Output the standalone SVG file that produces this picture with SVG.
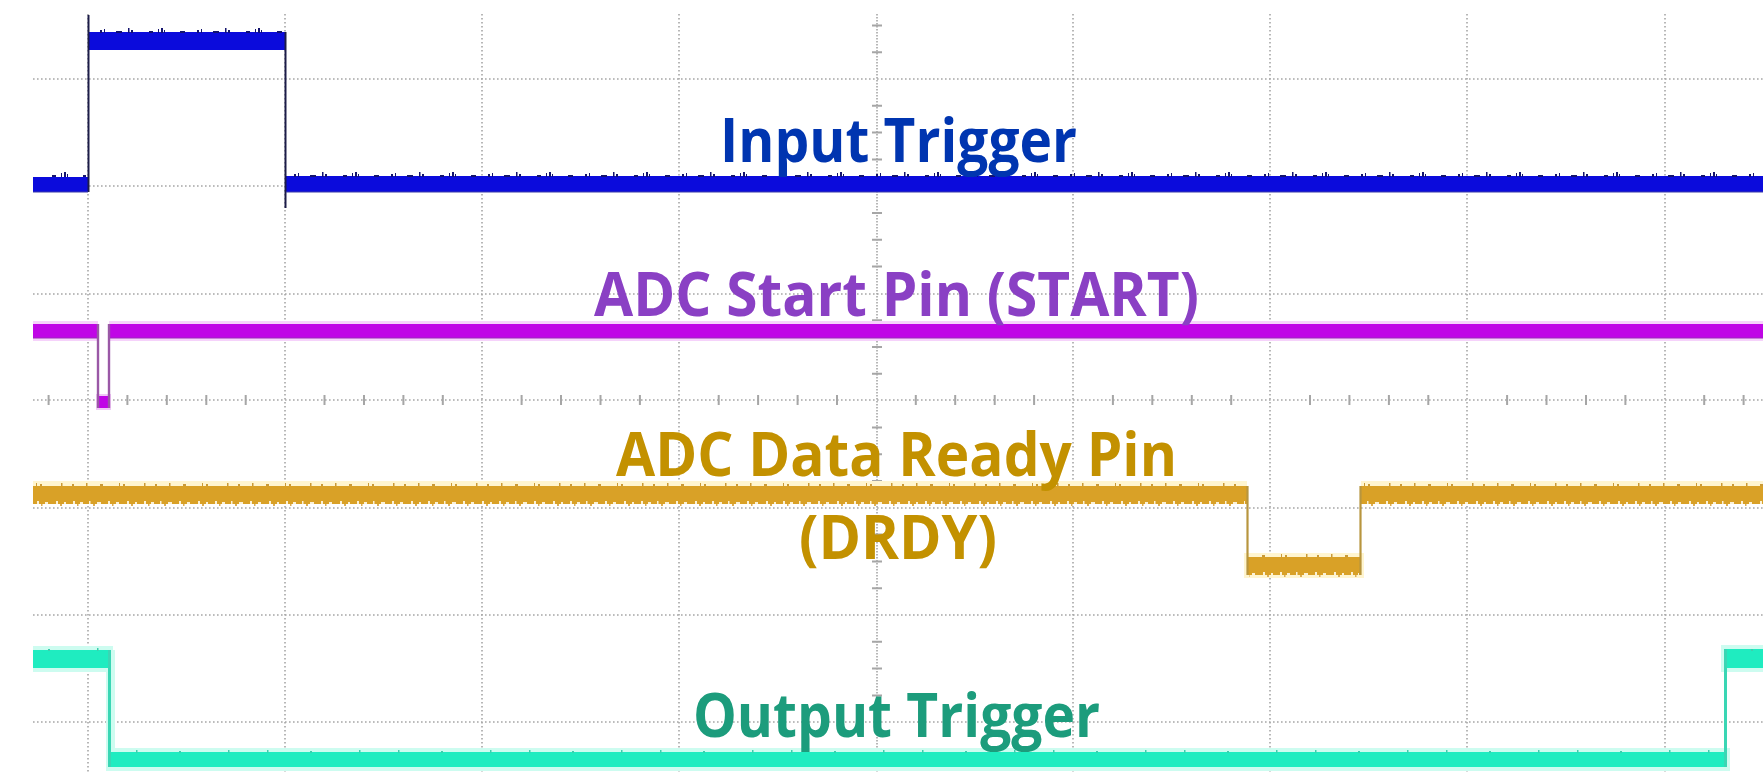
<svg xmlns="http://www.w3.org/2000/svg" width="1763" height="773" viewBox="0 0 1763 773">
  <style>
    .grid { stroke: #a6a6a6; stroke-width: 1.6; stroke-dasharray: 1.6 2.4; fill: none; }
    .tick { stroke: #a6a6a6; stroke-width: 2; fill: none; }
    .label { font-family: "Open Sans", "Liberation Sans", sans-serif; font-weight: 700; font-size: 60px; }
  </style>
  <defs>
    <!-- sparse, irregular noise ticks riding on the trace bands -->
    <pattern id="nzBlue" width="97" height="6" patternUnits="userSpaceOnUse">
      <rect x="3" y="3" width="2" height="3" fill="#14146e"/>
      <rect x="7" y="2" width="1" height="4" fill="#14146e"/>
      <rect x="19" y="4" width="6" height="2" fill="#14146e"/>
      <rect x="31" y="1" width="1.5" height="5" fill="#14146e"/>
      <rect x="34" y="3" width="2" height="3" fill="#14146e"/>
      <rect x="52" y="4" width="4" height="2" fill="#14146e"/>
      <rect x="61" y="2" width="1" height="4" fill="#14146e"/>
      <rect x="64" y="1" width="2" height="5" fill="#14146e"/>
      <rect x="67" y="3" width="1" height="3" fill="#14146e"/>
      <rect x="83" y="4" width="5" height="2" fill="#14146e"/>
    </pattern>
    <pattern id="nzGoldTop" width="83" height="4" patternUnits="userSpaceOnUse">
      <rect x="3" y="1" width="1.5" height="3" fill="#c99a3a"/>
      <rect x="17" y="2" width="3" height="2" fill="#c99a3a"/>
      <rect x="36" y="1" width="1" height="3" fill="#c99a3a"/>
      <rect x="40" y="2" width="2" height="2" fill="#c99a3a"/>
      <rect x="61" y="1" width="1.5" height="3" fill="#c99a3a"/>
      <rect x="72" y="2" width="2" height="2" fill="#c99a3a"/>
    </pattern>
    <pattern id="nzGoldLow" width="71" height="5" patternUnits="userSpaceOnUse">
      <rect x="2" y="0" width="2" height="3" fill="#fbf1d6"/>
      <rect x="9" y="1" width="3" height="2" fill="#fbf1d6"/>
      <rect x="18" y="0" width="1.5" height="3" fill="#fbf1d6"/>
      <rect x="26" y="1" width="4" height="2" fill="#fbf1d6"/>
      <rect x="37" y="0" width="2" height="3" fill="#fbf1d6"/>
      <rect x="45" y="1" width="3" height="2" fill="#fbf1d6"/>
      <rect x="56" y="0" width="2" height="3" fill="#fbf1d6"/>
      <rect x="64" y="1" width="2" height="2" fill="#fbf1d6"/>
      <rect x="6" y="3" width="1.5" height="2" fill="#dcae55"/>
      <rect x="22" y="3" width="2" height="2" fill="#dcae55"/>
      <rect x="41" y="3" width="1.5" height="2" fill="#dcae55"/>
      <rect x="60" y="3" width="2" height="2" fill="#dcae55"/>
    </pattern>
    <pattern id="nzCyan" width="131" height="4" patternUnits="userSpaceOnUse">
      <rect x="5" y="1" width="1.5" height="3" fill="#3ccfae"/>
      <rect x="48" y="2" width="2" height="2" fill="#3ccfae"/>
      <rect x="97" y="1" width="1.5" height="3" fill="#3ccfae"/>
    </pattern>
  </defs>

  <rect width="1763" height="773" fill="#ffffff"/>

  <!-- graticule -->
  <g id="graticule">
    <g id="grid-vertical">
      <line class="grid" x1="88" y1="14" x2="88" y2="773"/>
      <line class="grid" x1="285" y1="14" x2="285" y2="773"/>
      <line class="grid" x1="482" y1="14" x2="482" y2="773"/>
      <line class="grid" x1="679" y1="14" x2="679" y2="773"/>
      <line class="grid" x1="877" y1="14" x2="877" y2="773" style="stroke-dasharray:1.4 1.6"/>
      <line class="grid" x1="1073" y1="14" x2="1073" y2="773"/>
      <line class="grid" x1="1270" y1="14" x2="1270" y2="773"/>
      <line class="grid" x1="1467" y1="14" x2="1467" y2="773"/>
      <line class="grid" x1="1665" y1="14" x2="1665" y2="773"/>
    </g>
    <g id="grid-horizontal">
      <line class="grid" x1="33" y1="79" x2="1763" y2="79"/>
      <line class="grid" x1="33" y1="186" x2="1763" y2="186"/>
      <line class="grid" x1="33" y1="294" x2="1763" y2="294"/>
      <line class="grid" x1="33" y1="400" x2="1763" y2="400"/>
      <line class="grid" x1="33" y1="508" x2="1763" y2="508"/>
      <line class="grid" x1="33" y1="615" x2="1763" y2="615"/>
      <line class="grid" x1="33" y1="722" x2="1763" y2="722"/>
    </g>
    <!-- minor ticks on the centre axes -->
    <path id="ticks-horizontal" class="tick" d="M48.6 395v10 M127.4 395v10 M166.8 395v10 M206.3 395v10 M245.7 395v10 M324.5 395v10 M364 395v10 M403.4 395v10 M442.8 395v10 M521.6 395v10 M561 395v10 M600.5 395v10 M639.9 395v10 M718.7 395v10 M758.1 395v10 M797.6 395v10 M837 395v10 M915.8 395v10 M955.2 395v10 M994.7 395v10 M1034.1 395v10 M1112.9 395v10 M1152.3 395v10 M1191.8 395v10 M1231.2 395v10 M1310 395v10 M1349.4 395v10 M1388.9 395v10 M1428.3 395v10 M1507.1 395v10 M1546.5 395v10 M1586 395v10 M1625.4 395v10 M1704.2 395v10 M1743.6 395v10"/>
    <path id="ticks-vertical" class="tick" d="M872 25.4h10 M872 52.2h10 M872 105.8h10 M872 132.6h10 M872 159.4h10 M872 213h10 M872 239.8h10 M872 266.6h10 M872 320.2h10 M872 347h10 M872 373.8h10 M872 427.4h10 M872 454.2h10 M872 481h10 M872 534.6h10 M872 561.4h10 M872 588.2h10 M872 641.8h10 M872 668.6h10 M872 695.4h10 M872 749h10"/>
  </g>

  <!-- channel 1: input trigger -->
  <g id="trace-input">
    <rect x="33" y="177" width="55" height="15" fill="#0b0bdc"/>
    <rect x="89" y="32" width="196" height="18" fill="#0b0bdc"/>
    <rect x="286" y="176" width="1477" height="16" fill="#0b0bdc"/>
    <g transform="translate(0,171)">
      <rect x="36" y="0" width="50" height="6" fill="url(#nzBlue)"/>
      <rect x="290" y="0" width="1473" height="6" fill="url(#nzBlue)"/>
    </g>
    <g transform="translate(0,27)">
      <rect x="92" y="0" width="192" height="6" fill="url(#nzBlue)"/>
    </g>
    <line x1="88.5" y1="15" x2="88.5" y2="192" stroke="#1c1c48" stroke-width="2"/>
    <line x1="285.5" y1="32" x2="285.5" y2="208" stroke="#1c1c48" stroke-width="2"/>
    <line x1="33" y1="192" x2="88" y2="192" stroke="#3a3aa8" stroke-width="1"/>
    <line x1="286" y1="192" x2="1763" y2="192" stroke="#3a3aa8" stroke-width="1"/>
  </g>

  <!-- channel 2: ADC START -->
  <g id="trace-start">
    <rect x="33" y="321" width="65" height="20" fill="#f6d2fb"/>
    <rect x="109" y="321" width="1654" height="20" fill="#f6d2fb"/>
    <rect x="33" y="324" width="64" height="14" fill="#c005e6"/>
    <rect x="110" y="324" width="1653" height="14" fill="#c005e6"/>
    <rect x="96" y="394" width="15" height="16" fill="#f0c8f6"/>
    <rect x="97" y="396" width="13" height="12" fill="#c005e6"/>
    <line x1="98" y1="324" x2="98" y2="408" stroke="#9a58a6" stroke-width="2.4"/>
    <line x1="109" y1="324" x2="109" y2="408" stroke="#9a58a6" stroke-width="2.4"/>
    <line x1="110" y1="338" x2="1763" y2="338" stroke="#9a2ab8" stroke-width="1.2"/>
    <line x1="33" y1="338" x2="97" y2="338" stroke="#9a2ab8" stroke-width="1.2"/>
  </g>

  <!-- channel 3: ADC DRDY -->
  <g id="trace-drdy">
    <rect x="33" y="481" width="1214" height="6" fill="#fff5d0"/>
    <rect x="1361" y="481" width="402" height="6" fill="#fff5d0"/>
    <rect x="1244" y="553" width="120" height="25" fill="#fff5d0"/>
    <rect x="33" y="486" width="1214" height="18" fill="#d9a127"/>
    <rect x="1361" y="486" width="402" height="18" fill="#d9a127"/>
    <rect x="1247" y="557" width="114" height="18" fill="#d9a127"/>
    <g transform="translate(0,482)">
      <rect x="36" y="0" width="1208" height="4" fill="url(#nzGoldTop)"/>
      <rect x="1364" y="0" width="399" height="4" fill="url(#nzGoldTop)"/>
    </g>
    <g transform="translate(0,553)">
      <rect x="1250" y="0" width="108" height="4" fill="url(#nzGoldTop)"/>
    </g>
    <g transform="translate(0,501)">
      <rect x="33" y="0" width="1212" height="5" fill="url(#nzGoldLow)"/>
      <rect x="1363" y="0" width="400" height="5" fill="url(#nzGoldLow)"/>
    </g>
    <g transform="translate(0,572)">
      <rect x="1249" y="0" width="110" height="5" fill="url(#nzGoldLow)"/>
    </g>
    <line x1="1247.5" y1="486" x2="1247.5" y2="575" stroke="#b8953e" stroke-width="2.2"/>
    <line x1="1360.5" y1="486" x2="1360.5" y2="575" stroke="#b8953e" stroke-width="2.2"/>
  </g>

  <!-- channel 4: output trigger -->
  <g id="trace-output">
    <rect x="33" y="646" width="80" height="26" fill="#cdfcf0"/>
    <rect x="106" y="650" width="9" height="121" fill="#cdfcf0"/>
    <rect x="107" y="748" width="1623" height="23" fill="#cdfcf0"/>
    <rect x="1721" y="645" width="42" height="27" fill="#cdfcf0"/>
    <rect x="33" y="650" width="76" height="18" fill="#1fecc0"/>
    <rect x="110" y="752" width="1616" height="15" fill="#1fecc0"/>
    <rect x="1726" y="649" width="37" height="19" fill="#1fecc0"/>
    <g transform="translate(0,647)">
      <rect x="36" y="0" width="70" height="4" fill="url(#nzCyan)"/>
      <rect x="1729" y="0" width="34" height="4" fill="url(#nzCyan)"/>
    </g>
    <g transform="translate(0,749)">
      <rect x="114" y="0" width="1608" height="4" fill="url(#nzCyan)"/>
    </g>
    <line x1="109.5" y1="650" x2="109.5" y2="767" stroke="#3ad6b4" stroke-width="3"/>
    <line x1="1725.5" y1="649" x2="1725.5" y2="767" stroke="#3ad6b4" stroke-width="3"/>
  </g>

  <!-- channel labels -->
  <g id="label-input">
    <text class="label" x="720" y="162" fill="#0035b0" textLength="357" lengthAdjust="spacingAndGlyphs">Input Trigger</text>
  </g>
  <g id="label-start">
    <text class="label" x="594" y="316" fill="#8a40c4" textLength="605" lengthAdjust="spacingAndGlyphs">ADC Start Pin (START)</text>
  </g>
  <g id="label-drdy">
    <text class="label" x="616" y="476" fill="#c39100" textLength="561" lengthAdjust="spacingAndGlyphs">ADC Data Ready Pin</text>
    <text class="label" x="799" y="559" fill="#c39100" textLength="198" lengthAdjust="spacingAndGlyphs">(DRDY)</text>
  </g>
  <g id="label-output">
    <text class="label" x="693" y="737" fill="#1c9c7c" textLength="407" lengthAdjust="spacingAndGlyphs">Output Trigger</text>
  </g>
</svg>
